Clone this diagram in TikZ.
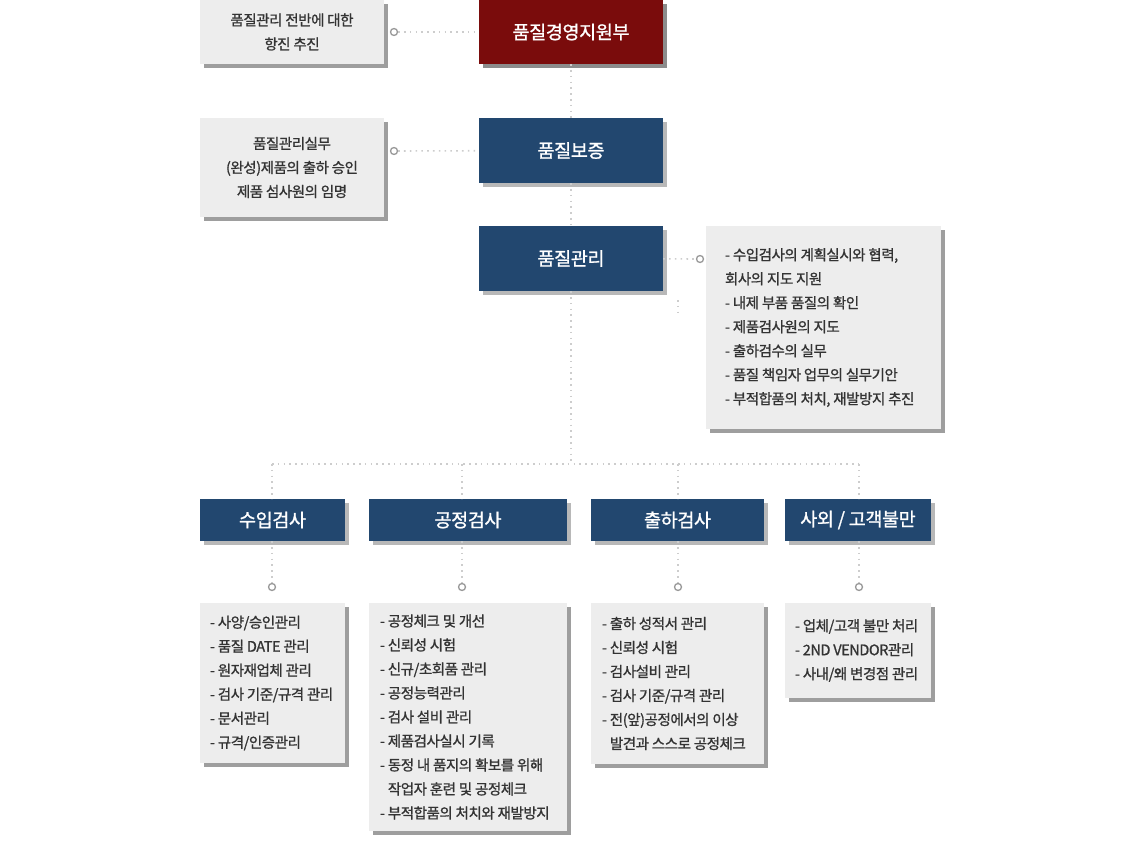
\documentclass[tikz,border=0pt]{standalone}
\usepackage{fontspec}
\setmainfont{Noto Sans CJK KR}
\newfontfamily\notefont{Noto Sans CJK KR}[FakeBold=1.0,LetterSpace=-3]
\newfontfamily\headfont{Noto Sans CJK KR}[FakeBold=1.2,LetterSpace=-2]
\usetikzlibrary{positioning,shadows}
\definecolor{boardred}{HTML}{7A0C0C}
\definecolor{teamblue}{HTML}{22476F}
\definecolor{notegray}{HTML}{EDEDED}
\definecolor{textgray}{HTML}{333333}
\definecolor{linegray}{HTML}{CDCDCD}

\begin{document}
\begin{tikzpicture}[x=1pt,y=-1pt,
	redbox/.style={fill=boardred, text=white, inner sep=0pt, font=\headfont\fontsize{18.5}{20}\selectfont,
		drop shadow={shadow xshift=4pt, shadow yshift=-4pt, fill=black!45, opacity=1}},
	bluebox/.style={fill=teamblue, text=white, inner sep=0pt, font=\headfont\fontsize{18.5}{20}\selectfont,
		drop shadow={shadow xshift=4pt, shadow yshift=-4pt, fill=black!28, opacity=1}},
	notebox/.style={fill=notegray, text=textgray, inner sep=0pt, font=\notefont\fontsize{14.5}{24}\selectfont,
		drop shadow={shadow xshift=4pt, shadow yshift=-4pt, fill=black!38, opacity=1}},
	notetext/.style={text=textgray, inner sep=0pt, align=left, font=\notefont\fontsize{14.5}{24}\selectfont},
	dotline/.style={linegray, line width=1.6pt, dash pattern=on 1.6pt off 4.2pt},
	knot/.style={circle, draw=black!40, fill=white, line width=1.3pt, inner sep=0pt, minimum size=7pt}]
			%%%%% START %%%%%
			\useasboundingbox (0,0) rectangle (1140,853);
			
			% upper chain
			\node[redbox, minimum width=184pt, minimum height=64pt] (board) at (571,32) {품질경영지원부};
			\node[notebox, minimum width=184pt, minimum height=64pt, align=center] (boardnote) at (292,32) {품질관리 전반에 대한\\항진 추진};
			\node[knot] (kboard) at (394,32) {};
			\draw[dotline] (kboard) -- (board);
			
			\node[bluebox, minimum width=184pt, minimum height=65pt] (qa) at (571,150.5) {품질보증};
			\node[notebox, minimum width=184pt, minimum height=99pt, align=center] (qanote) at (292,167.5) {품질관리실무\\(완성)제품의 출하 승인\\제품 섬사원의 임명};
			\node[knot] (kqa) at (394,151) {};
			\draw[dotline] (kqa) -- (qa);
			
			\node[bluebox, minimum width=184pt, minimum height=65pt] (qc) at (571,258.5) {품질관리};
			\node[notebox, minimum width=235pt, minimum height=203pt] (qcnote) at (823.5,327.5) {};
			\node[notetext, right=19pt of qcnote.west] (qctext) {- 수입검사의 계획실시와 협력,\\회사의 지도 지원\\- 내제 부품 품질의 확인\\- 제품검사원의 지도\\- 출하검수의 실무\\- 품질 책임자 업무의 실무기안\\- 부적합품의 처치, 재발방지 추진};
			\node[knot] (kqc) at (700,259) {};
			\draw[dotline] (qc) -- (kqc);
			\draw[dotline] (678,300) -- (678,316);
			
			\coordinate (trunk) at (571,464);
			\draw[dotline] (board) -- (qa);
			\draw[dotline] (qa) -- (qc);
			\draw[dotline] (qc) -- (trunk);
			
			% lower row
			\node[bluebox, minimum width=145pt, minimum height=42pt] (hin) at (272.5,520) {수입검사};
			\node[bluebox, minimum width=198pt, minimum height=42pt] (hpr) at (468,520) {공정검사};
			\node[bluebox, minimum width=173pt, minimum height=42pt] (hsh) at (677.5,520) {출하검사};
			\node[bluebox, minimum width=146pt, minimum height=42pt] (hcu) at (858,520) {사외 / 고객불만};
			
			\node[notebox, minimum width=145pt, minimum height=160pt] (lin) at (272.5,683) {};
			\node[notebox, minimum width=198pt, minimum height=228pt] (lpr) at (468,717) {};
			\node[notebox, minimum width=173pt, minimum height=161pt] (lsh) at (677.5,683.5) {};
			\node[notebox, minimum width=146pt, minimum height=95pt] (lcu) at (858,650.5) {};
			
			\node[notetext, right=10pt of lin.west] (tin) {- 사양/승인관리\\- 품질 DATE 관리\\- 원자재업체 관리\\- 검사 기준/규격 관리\\- 문서관리\\- 규격/인증관리};
			\node[notetext, right=11pt of lpr.west] (tpr) {- 공정체크 및 개선\\- 신뢰성 시험\\- 신규/초회품 관리\\- 공정능력관리\\- 검사 설비 관리\\- 제품검사실시 기록\\- 동정 내 품지의 확보를 위해\\\hphantom{- }작업자 훈련 및 공정체크\\- 부적합품의 처치와 재발방지};
			\node[notetext, right=11pt of lsh.west] (tsh) {- 출하 성적서 관리\\- 신뢰성 시험\\- 검사설비 관리\\- 검사 기준/규격 관리\\- 전(앞)공정에서의 이상\\\hphantom{- }발견과 스스로 공정체크};
			\node[notetext, right=10pt of lcu.west] (tcu) {- 업체/고객 불만 처리\\- 2ND VENDOR관리\\- 사내/왜 변경점 관리};
			
			\coordinate (left) at (272,464);
			\coordinate (right) at (859,464);
			\draw[dotline] (left) -- (right);
			\foreach \h/\x in {in/272, pr/462, sh/678, cu/859}{
				\coordinate (d\h) at (\x,464);
				\node[knot] (k\h) at (\x,587) {};
				\draw[dotline] (d\h) -- (h\h.north -| d\h);
				\draw[dotline] (h\h.south -| k\h) -- (k\h);
			}
			
			%%%%% END %%%%%
\end{tikzpicture}
\end{document}
